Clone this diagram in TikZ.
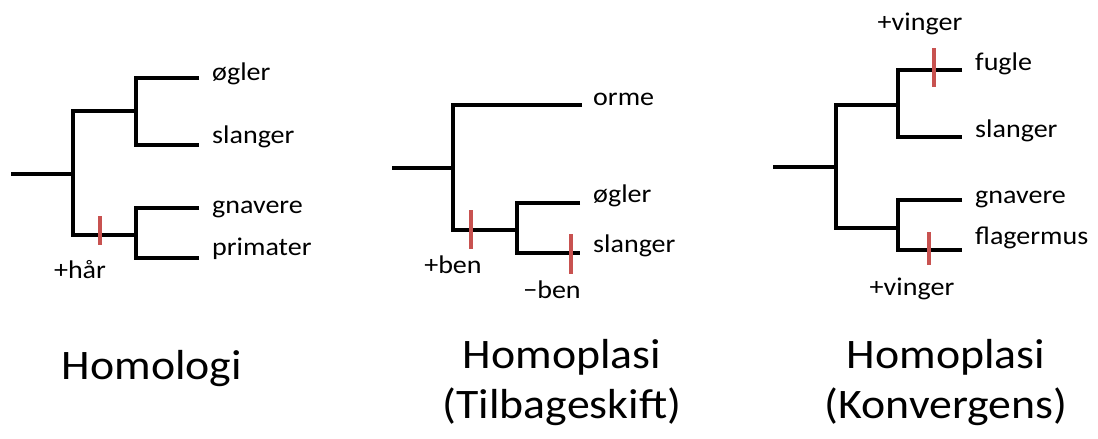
\documentclass[tikz,border=0pt]{standalone}
\usepackage{fontspec}
\usepackage{graphicx}
\setmainfont{Carlito}
\definecolor{tickred}{RGB}{200,82,80}
\newcommand{\lbl}[1]{\scalebox{1.1}[1]{#1}}
\newcommand{\ttl}[1]{\scalebox{1.09}[1]{#1}}
\begin{document}
\begin{tikzpicture}[x=1pt,y=-1pt,
  branch/.style={draw=black,line width=3.5pt,line join=miter},
  tickmark/.style={draw=tickred,line width=4.5pt},
  leaf/.style={anchor=base west,inner sep=0pt,font=\fontsize{25.5}{30}\selectfont},
  trait/.style={anchor=base,inner sep=0pt,font=\fontsize{25.5}{30}\selectfont},
  title/.style={anchor=base,inner sep=0pt,font=\fontsize{42}{50}\selectfont}]
\useasboundingbox (0,0) rectangle (1098,439);
% ---------- Tree 1: Homologi ----------
\coordinate (r1) at (11,174);
\coordinate (n1) at (73,174);
\coordinate (u1) at (136,111);
\coordinate (l1) at (136,235);
\coordinate (e11) at (199,78);
\coordinate (e12) at (199,145);
\coordinate (e13) at (199,208);
\coordinate (e14) at (199,258);
\draw[branch] (r1) -- (n1);
\draw[branch] (u1) -| (n1) |- (l1);
\draw[branch] (e11) -| (u1) |- (e12);
\draw[branch] (e13) -| (l1) |- (e14);
\coordinate (t1a) at (100,216);
\coordinate (t1b) at (100,245);
\draw[tickmark] (t1a) -- (t1b);
\node[leaf] (og1) at (212,80) {\lbl{øgler}};
\node[leaf] (sl1) at (212,143) {\lbl{slanger}};
\node[leaf] (gn1) at (212,213) {\lbl{gnavere}};
\node[leaf] (pr1) at (212,255) {\lbl{primater}};
\node[trait] (har) at (80,278) {\lbl{+hår}};
\node[title] (tit1) at (152,379) {\ttl{Homologi}};
% ---------- Tree 2: Homoplasi (Tilbageskift) ----------
\coordinate (r2) at (392,168);
\coordinate (n2) at (453,168);
\coordinate (e21) at (582,105);
\coordinate (l2) at (517,230);
\coordinate (e22) at (580,203);
\coordinate (e23) at (580,253);
\draw[branch] (r2) -- (n2);
\draw[branch] (e21) -| (n2) |- (l2);
\draw[branch] (e22) -| (l2) |- (e23);
\coordinate (t2a) at (471,210);
\coordinate (t2b) at (471,249);
\coordinate (t3a) at (571,234);
\coordinate (t3b) at (571,274);
\draw[tickmark] (t2a) -- (t2b);
\draw[tickmark] (t3a) -- (t3b);
\node[leaf] (or2) at (593,105) {\lbl{orme}};
\node[leaf] (og2) at (593,202) {\lbl{øgler}};
\node[leaf] (sl2) at (593,252) {\lbl{slanger}};
\node[trait] (pben) at (453,273) {\lbl{+ben}};
\node[trait] (mben) at (552,298) {\lbl{−ben}};
\node[title] (tit2a) at (562,368) {\ttl{Homoplasi}};
\node[title] (tit2b) at (562,418) {\ttl{(Tilbageskift)}};
% ---------- Tree 3: Homoplasi (Konvergens) ----------
\coordinate (r3) at (773,167);
\coordinate (n3) at (836,167);
\coordinate (u3) at (898,105);
\coordinate (l3) at (898,228);
\coordinate (e31) at (962,70);
\coordinate (e32) at (962,137);
\coordinate (e33) at (962,200);
\coordinate (e34) at (962,250);
\draw[branch] (r3) -- (n3);
\draw[branch] (u3) -| (n3) |- (l3);
\draw[branch] (e31) -| (u3) |- (e32);
\draw[branch] (e33) -| (l3) |- (e34);
\coordinate (t4a) at (934,48);
\coordinate (t4b) at (934,87);
\coordinate (t5a) at (929,232);
\coordinate (t5b) at (929,265);
\draw[tickmark] (t4a) -- (t4b);
\draw[tickmark] (t5a) -- (t5b);
\node[leaf] (fu3) at (975,70) {\lbl{fugle}};
\node[leaf] (sl3) at (975,137) {\lbl{slanger}};
\node[leaf] (gn3) at (975,203) {\lbl{gnavere}};
\node[leaf] (fl3) at (975,244) {\lbl{flagermus}};
\node[trait] (vin1) at (920,30) {\lbl{+vinger}};
\node[trait] (vin2) at (912,295) {\lbl{+vinger}};
\node[title] (tit3a) at (946,368) {\ttl{Homoplasi}};
\node[title] (tit3b) at (946,418) {\ttl{(Konvergens)}};
\end{tikzpicture}
\end{document}
